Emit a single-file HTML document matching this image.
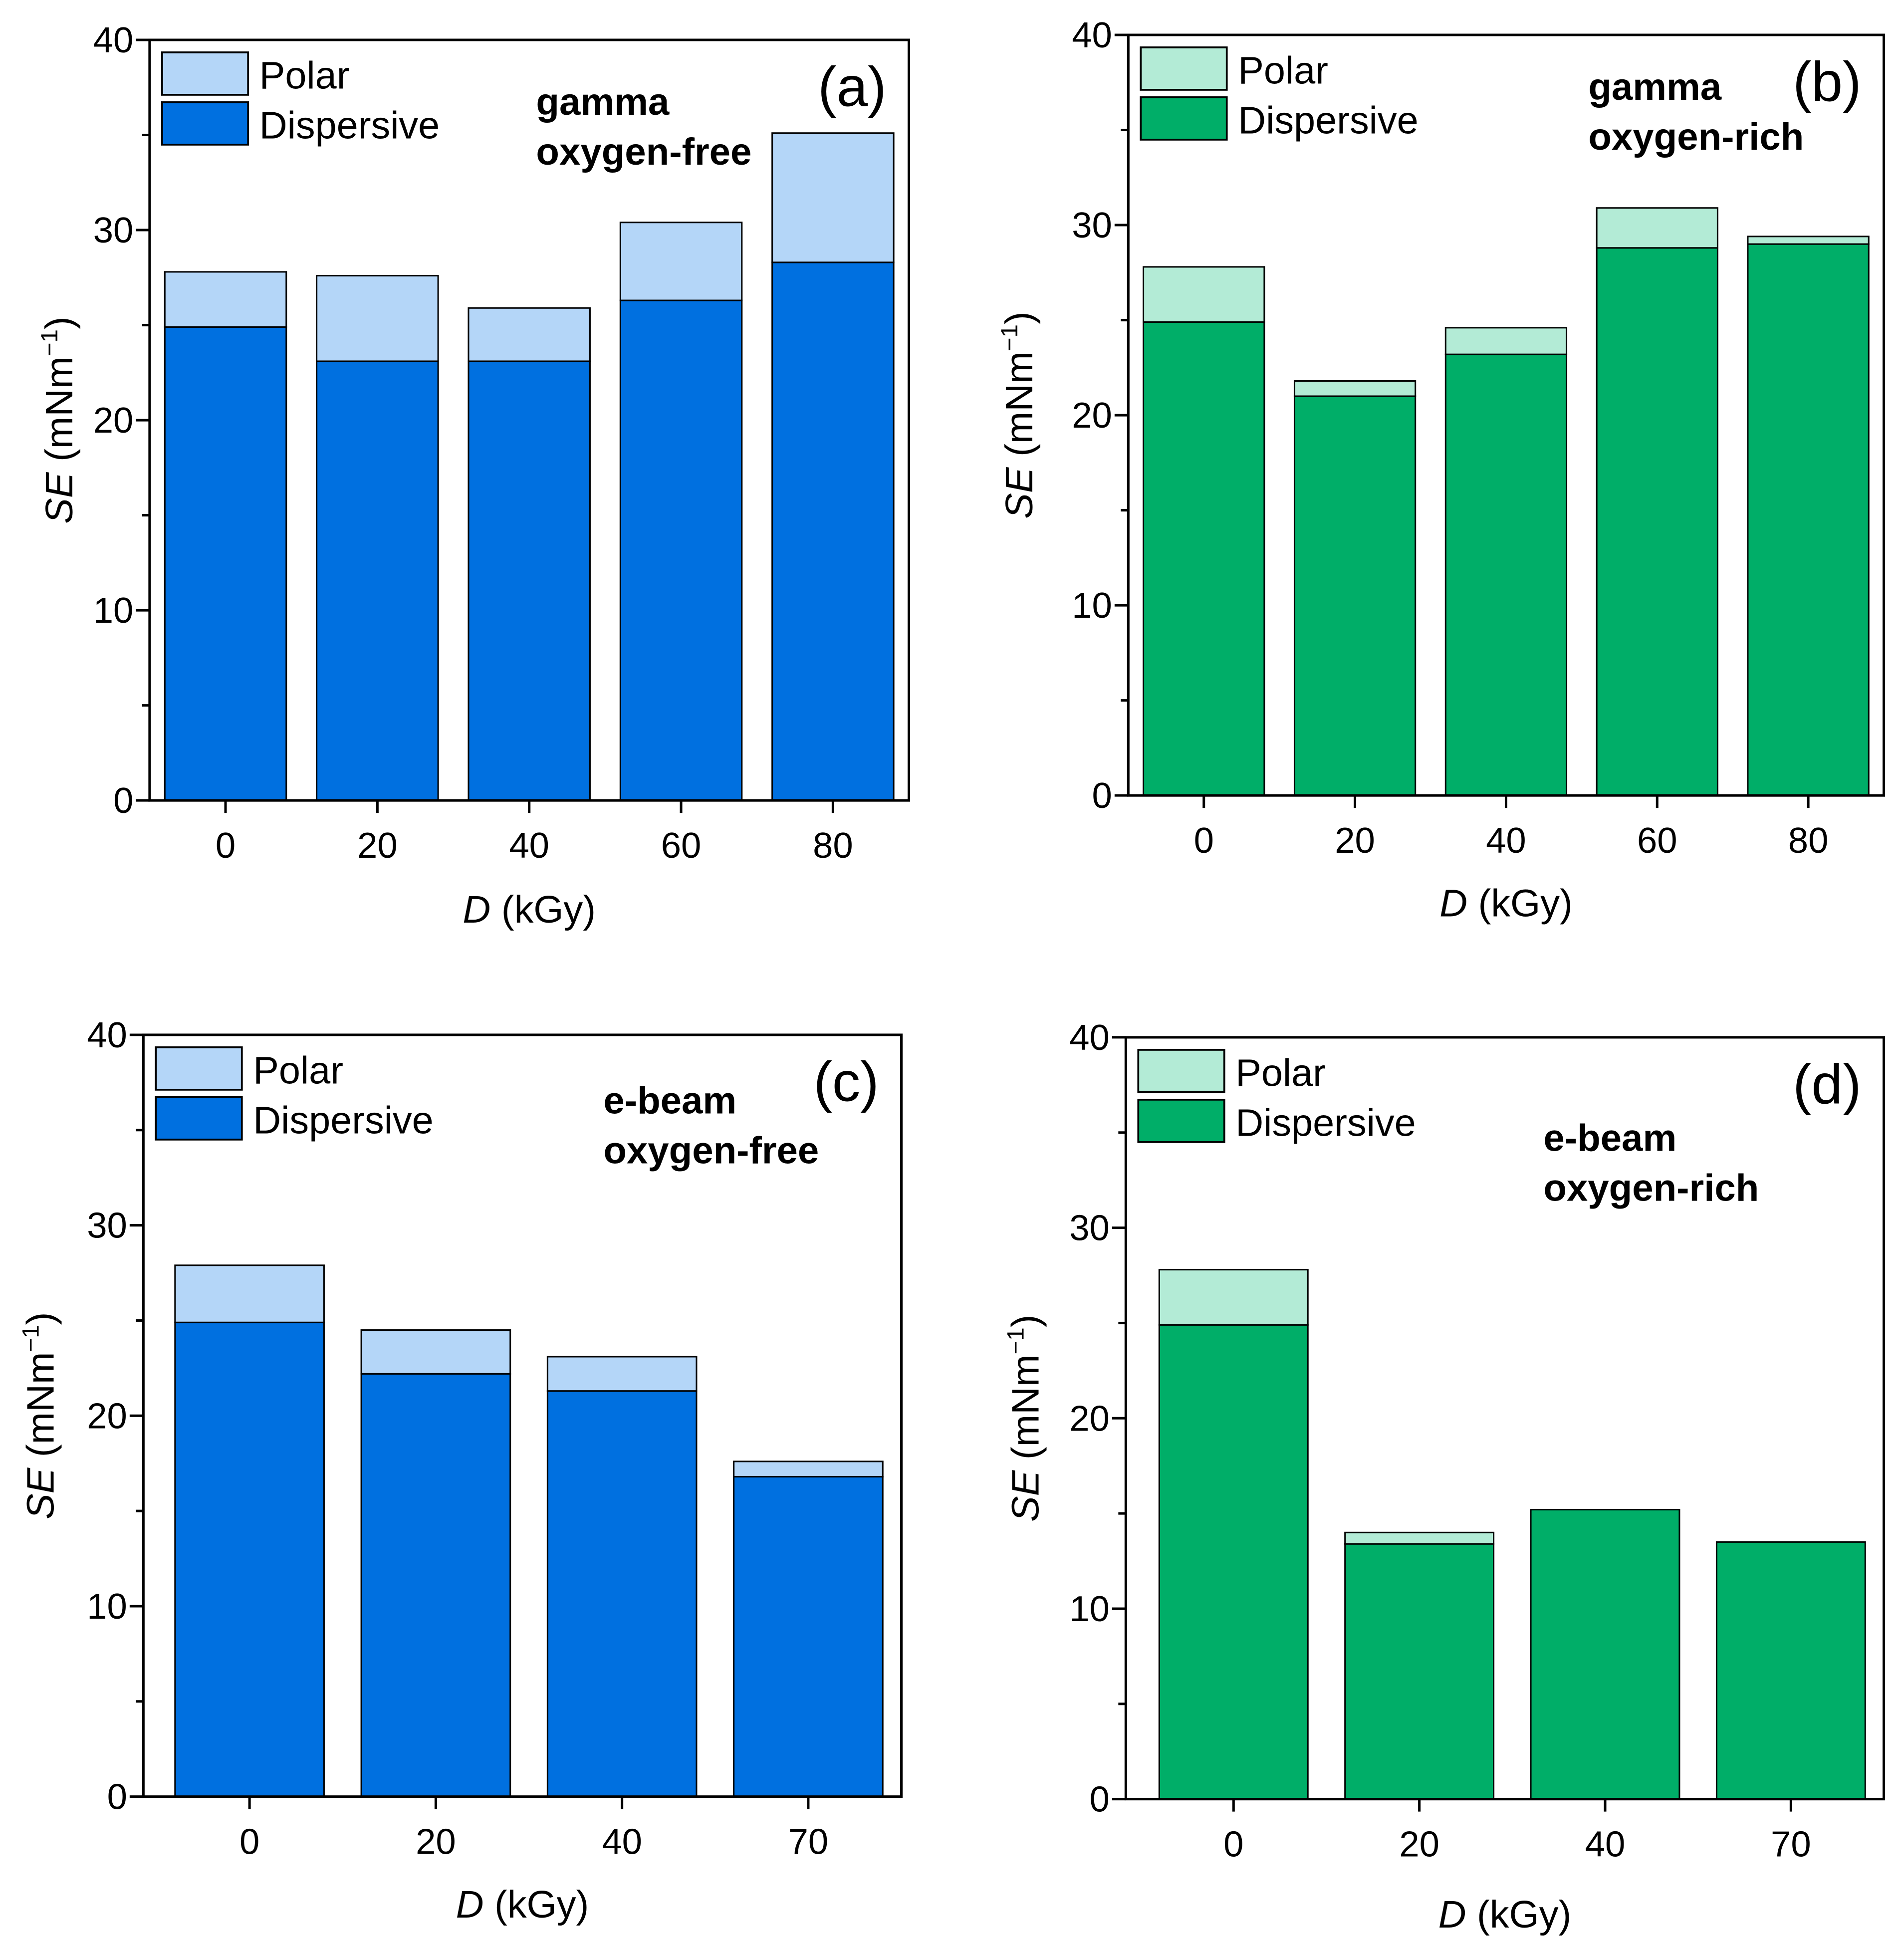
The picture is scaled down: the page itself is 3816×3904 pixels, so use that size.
<!DOCTYPE html>
<html><head><meta charset="utf-8"><style>
html,body{margin:0;padding:0;background:#fff;}
svg{display:block;}
text{font-family:"Liberation Sans",Arial,sans-serif;fill:#000;}
</style></head><body>
<svg id="fig" width="3816" height="3904" viewBox="0 0 1527.2 1562.4" xmlns="http://www.w3.org/2000/svg"></svg>
<script>
// Panel data
const catsA = ["0","20","40","60","80"];
const dispA = [24.9, 23.1, 23.1, 26.3, 28.3];
const totA  = [27.8, 27.6, 25.9, 30.4, 35.1];
const catsB = ["0","20","40","60","80"];
const dispB = [24.9, 21.0, 23.2, 28.8, 29.0];
const totB  = [27.8, 21.8, 24.6, 30.9, 29.4];
const catsC = ["0","20","40","70"];
const dispC = [24.9, 22.2, 21.3, 16.8];
const totC  = [27.9, 24.5, 23.1, 17.6];
const catsD = ["0","20","40","70"];
const dispD = [24.9, 13.4, 15.2, 13.5];
const totD  = [27.8, 14.0, 15.2, 13.5];
const yTicks = [0, 10, 20, 30, 40];
const yMinor = [5, 15, 25, 35];

const NS = "http://www.w3.org/2000/svg";
const svg = document.getElementById("fig");
function mk(tag, attrs, parent, txt){
  const e = document.createElementNS(NS, tag);
  for (const k in attrs) e.setAttribute(k, attrs[k]);
  if (txt !== undefined) e.textContent = txt;
  (parent || svg).appendChild(e);
  return e;
}
const BLUE=["#0070E0","#B4D6F8"], GREEN=["#00AE68","#B3EBD6"];

function panel(p){
  const g = mk("g", {});
  
  
  const n = p.cats.length;
  const xs = i => p.L + (i - p.x0) * (p.R - p.L) / (p.x1 - p.x0);
  const ys = v => p.B - v / 40 * (p.B - p.T);
  const bw = 0.8 * (p.R - p.L) / (p.x1 - p.x0);
  for (let i = 0; i < n; i++){
    const d = mk("rect", {x: xs(i)-bw/2, y: ys(p.disp[i]), width: bw, height: ys(0)-ys(p.disp[i]), fill: p.col[0], stroke:"#000","stroke-width":1.2}, g);
    
    
    if (p.tot[i] > p.disp[i] + 0.05){
      const q = mk("rect", {x: xs(i)-bw/2, y: ys(p.tot[i]), width: bw, height: ys(p.disp[i])-ys(p.tot[i]), fill: p.col[1], stroke:"#000","stroke-width":1.2}, g);
      
      
    }
  }
  const box = mk("rect", {x:p.L, y:p.T, width:p.R-p.L, height:p.B-p.T, fill:"none", stroke:"#000","stroke-width":2}, g);
  
  
  yTicks.forEach(v => {
    mk("line", {x1:p.L-11, x2:p.L, y1:ys(v), y2:ys(v), stroke:"#000","stroke-width":2}, g);
    const t = mk("text", {x:p.L-13, y:ys(v)+10, "font-size":29, "text-anchor":"end"}, g, String(v));
    
    
  });
  yMinor.forEach(v => mk("line", {x1:p.L-6, x2:p.L, y1:ys(v), y2:ys(v), stroke:"#000","stroke-width":2}, g));
  for (let i = 0; i < n; i++){
    mk("line", {x1:xs(i), x2:xs(i), y1:p.B, y2:p.B+10, stroke:"#000","stroke-width":2}, g);
    const t = mk("text", {x:xs(i), y:p.B+46, "font-size":29, "text-anchor":"middle"}, g, p.cats[i]);
    
    
  }
  const xt = mk("text", {x:(p.L+p.R)/2, y:p.xtY, "font-size":31, "text-anchor":"middle"}, g);
  
  
  mk("tspan", {"font-style":"italic"}, xt, "D");
  mk("tspan", {}, xt, " (kGy)");
  const yc = (p.T+p.B)/2;
  const yt = mk("text", {x:0, y:0, "font-size":31, "text-anchor":"middle", transform:`translate(${p.ytX},${yc}) rotate(-90)`}, g);
  
  
  mk("tspan", {"font-style":"italic"}, yt, "SE");
  mk("tspan", {}, yt, " (mNm");
  mk("tspan", {"font-size":19, dy:-12}, yt, "−1");
  mk("tspan", {dy:12}, yt, ")");
  // legend
  const lx = p.L + 10, ly = p.T + 10;
  [["Polar",p.col[1],0],["Dispersive",p.col[0],40]].forEach(([lab,c,o]) => {
    const r = mk("rect", {x:lx, y:ly+o, width:69, height:34, fill:c, stroke:"#000","stroke-width":1.5}, g);
    
    
    const t = mk("text", {x:lx+78, y:ly+o+29, "font-size":31}, g, lab);
    
    
  });
  p.ann.forEach((s, k) => {
    const t = mk("text", {x:p.annX, y:p.annY + k*40, "font-size":30.5, "font-weight":"bold"}, g, s);
    
    
  });
  const pl = mk("text", {x:p.R-18, y:p.T+53, "font-size":45, "text-anchor":"end"}, g, p.label);
  
  
}

panel({id:"a", L:120, R:729, T:32, B:642, x0:-0.5, x1:4.5, cats:catsA, disp:dispA, tot:totA, col:BLUE, xtY:740, ytX:58, ann:["gamma","oxygen-free"], annX:430, annY:92, label:"(a)"});
panel({id:"b", L:905, R:1511, T:28, B:638, x0:-0.5, x1:4.5, cats:catsB, disp:dispB, tot:totB, col:GREEN, xtY:735, ytX:828, ann:["gamma","oxygen-rich"], annX:1274, annY:80, label:"(b)"});
panel({id:"c", L:115, R:723, T:830, B:1441, x0:-0.57, x1:3.5, cats:catsC, disp:dispC, tot:totC, col:BLUE, xtY:1538, ytX:43, ann:["e-beam","oxygen-free"], annX:484, annY:893, label:"(c)"});
panel({id:"d", L:903, R:1511, T:832, B:1443, x0:-0.58, x1:3.5, cats:catsD, disp:dispD, tot:totD, col:GREEN, xtY:1546, ytX:833, ann:["e-beam","oxygen-rich"], annX:1238, annY:923, label:"(d)"});
</script>
</body></html>
